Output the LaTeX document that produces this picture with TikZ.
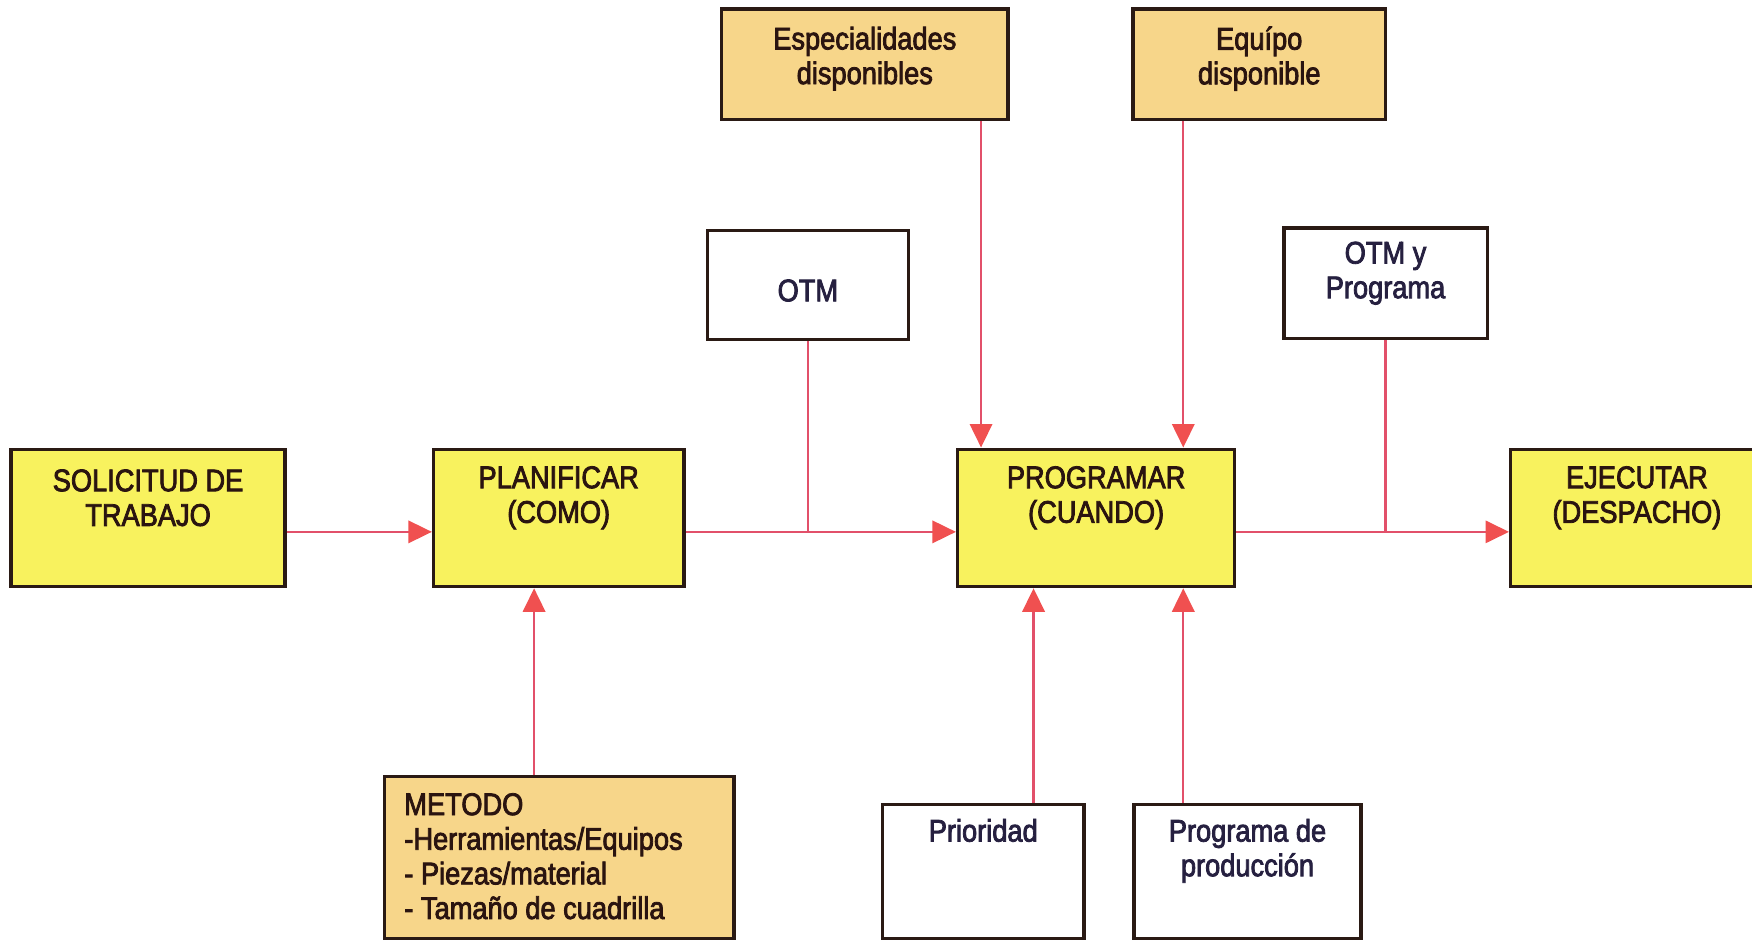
\documentclass[tikz,border=0pt]{standalone}
\usepackage{fontspec}
\setmainfont{Liberation Sans}[FakeStretch=0.87,FakeBold=2.5]
\usetikzlibrary{arrows.meta}

\definecolor{boxyellow}{HTML}{F8F25E}
\definecolor{boxorange}{HTML}{F7D68A}
\definecolor{edgedark}{HTML}{2A1A14}
\definecolor{txtbrown}{HTML}{2A1410}
\definecolor{txtnavy}{HTML}{262040}
\definecolor{linkred}{HTML}{E2506A}
\definecolor{tipred}{HTML}{F05050}

\tikzset{
  box/.style={draw=edgedark, line width=1.5pt, rectangle, inner sep=0pt},
  mainbox/.style={box, fill=boxyellow},
  srcbox/.style={box, fill=boxorange},
  infobox/.style={box, fill=white},
  txt/.style={font=\fontsize{14}{15.5}\selectfont, align=center, inner sep=0pt},
  link/.style={draw=linkred, line width=1pt},
  flow/.style={link, -{Triangle[length=10.5pt,width=10pt,fill=tipred,color=tipred]}},
}

\begin{document}
\begin{tikzpicture}[x=0.5pt, y=-0.5pt]
\useasboundingbox (0,0) rectangle (1568,842);

% main process chain
\node[mainbox, minimum width=122.5pt, minimum height=61.5pt,
  label={[txt, text=txtbrown, yshift=9pt]center:{SOLICITUD DE\\TRABAJO}}] (sol) at (132.5,463.5) {};
\node[mainbox, minimum width=112pt, minimum height=61.5pt,
  label={[txt, text=txtbrown, yshift=9pt]center:{PLANIFICAR\\(COMO)}}] (pla) at (500,463.5) {};
\node[mainbox, minimum width=124pt, minimum height=61.5pt,
  label={[txt, text=txtbrown, yshift=9pt]center:{PROGRAMAR\\(CUANDO)}}] (pro) at (981,463.5) {};
\node[mainbox, minimum width=113pt, minimum height=61.5pt,
  label={[txt, text=txtbrown, yshift=9pt]center:{EJECUTAR\\(DESPACHO)}}] (eje) at (1465,463.5) {};

% resources
\node[srcbox, minimum width=128pt, minimum height=49.5pt,
  label={[txt, text=txtbrown, yshift=2.5pt]center:{Especialidades\\disponibles}}] (esp) at (774,57.5) {};
\node[srcbox, minimum width=113pt, minimum height=49.5pt,
  label={[txt, text=txtbrown, yshift=2.5pt]center:{Equípo\\disponible}}] (equ) at (1127,57.5) {};
\node[srcbox, minimum width=156.5pt, minimum height=72.5pt,
  label={[txt, text=txtbrown, align=left, anchor=north west, xshift=9.5pt, yshift=-8pt]north west:{METODO\\-Herramientas/Equipos\\- Piezas/material\\- Tamaño de cuadrilla}}] (met) at (500.5,767.5) {};

% documents and inputs
\node[infobox, minimum width=90pt, minimum height=49pt,
  label={[txt, text=txtnavy, yshift=-2.5pt]center:{OTM}}] (otm) at (723,255) {};
\node[infobox, minimum width=91pt, minimum height=49.5pt,
  label={[txt, text=txtnavy, yshift=4.5pt]center:{OTM y\\Programa}}] (otmp) at (1240,253.5) {};
\node[infobox, minimum width=90pt, minimum height=60pt,
  label={[txt, text=txtnavy, anchor=north, yshift=-7pt]north:{Prioridad}}] (pri) at (880,780) {};
\node[infobox, minimum width=101.5pt, minimum height=60pt,
  label={[txt, text=txtnavy, anchor=north, yshift=-7pt]north:{Programa de\\producción}}] (prod) at (1116.5,780) {};

% level of the main flow line
\coordinate (lev) at (0,476);

% main flow
\draw[flow] (sol.east |- lev) -- (pla.west |- lev);
\draw[flow] (pla.east |- lev) -- (pro.west |- lev);
\draw[flow] (pro.east |- lev) -- (eje.west |- lev);

% documents joining the main flow
\draw[link] (otm.south) -- (otm.south |- lev);
\draw[link] (otmp.south) -- (otmp.south |- lev);

% resources into scheduling
\draw[flow] ([xshift=52pt]esp.south) -- ([xshift=52pt]esp.south |- pro.north);
\draw[flow] ([xshift=-34pt]equ.south) -- ([xshift=-34pt]equ.south |- pro.north);

% inputs from below
\draw[flow] ([xshift=-11.25pt]met.north) -- ([xshift=-11.25pt]met.north |- pla.south);
\draw[flow] ([xshift=22.5pt]pri.north) -- ([xshift=22.5pt]pri.north |- pro.south);
\draw[flow] ([xshift=-28.75pt]prod.north) -- ([xshift=-28.75pt]prod.north |- pro.south);
\end{tikzpicture}
\end{document}
